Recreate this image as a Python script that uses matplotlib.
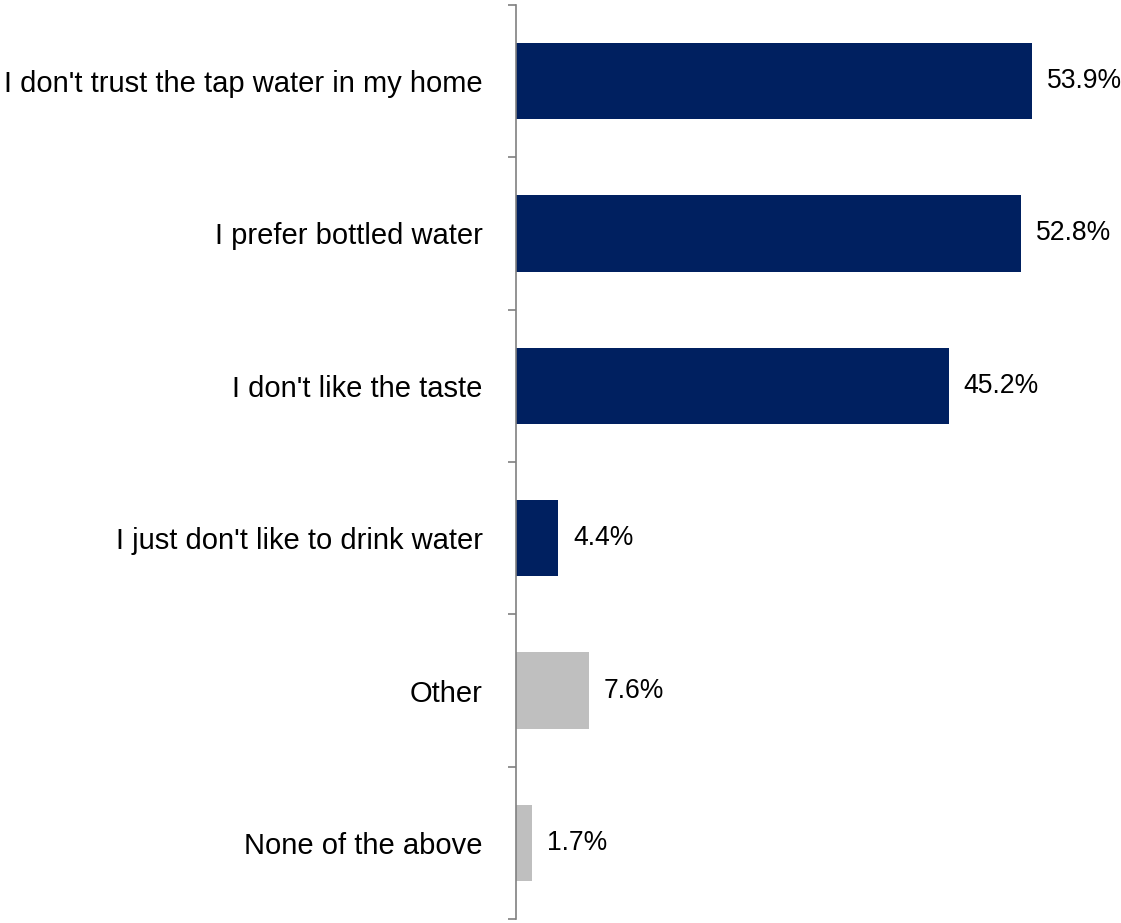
import matplotlib
matplotlib.use("Agg")
import matplotlib.pyplot as plt

categories = ["I don't trust the tap water in my home", "I prefer bottled water",
              "I don't like the taste", "I just don't like to drink water",
              "Other", "None of the above"]
values = [53.9, 52.8, 45.2, 4.4, 7.6, 1.7]
colors = ["#002060", "#002060", "#002060", "#002060", "#BFBFBF", "#BFBFBF"]
value_labels = ["53.9%", "52.8%", "45.2%", "4.4%", "7.6%", "1.7%"]

plt.rcParams['font.family'] = ['Liberation Sans', 'DejaVu Sans']

W, H = 1121, 923
fig = plt.figure(figsize=(W/100, H/100), dpi=100)
ax = fig.add_axes([516/W, 4/H, (W-516)/W, (919-5)/H])

n = len(categories)
y = list(range(n))
ax.barh(y, values, height=0.5, color=colors, zorder=2)
ax.set_xlim(0, 63.2)
ax.set_ylim(n-0.5, -0.5)

for yi, v, lab in zip(y, values, value_labels):
    ax.annotate(lab, (v, yi), xytext=(15, 0), textcoords='offset pixels',
                va='center', ha='left', fontsize=19.1, color='#000000')

ax.set_yticks([i-0.5 for i in range(n+1)])
ax.set_yticklabels([])
ax.set_yticks(y, minor=True)
ax.set_yticklabels(categories, minor=True, fontsize=21, color='#000000')
ax.tick_params(axis='y', which='major', length=6, width=1.2, color='#808080', direction='out')
ax.tick_params(axis='y', which='minor', length=0, pad=24)
ax.set_xticks([])
for s in ['top', 'right', 'bottom']:
    ax.spines[s].set_visible(False)
ax.spines['left'].set_color('#808080')
ax.spines['left'].set_linewidth(1.2)

fig.savefig("out.png", dpi=100)
